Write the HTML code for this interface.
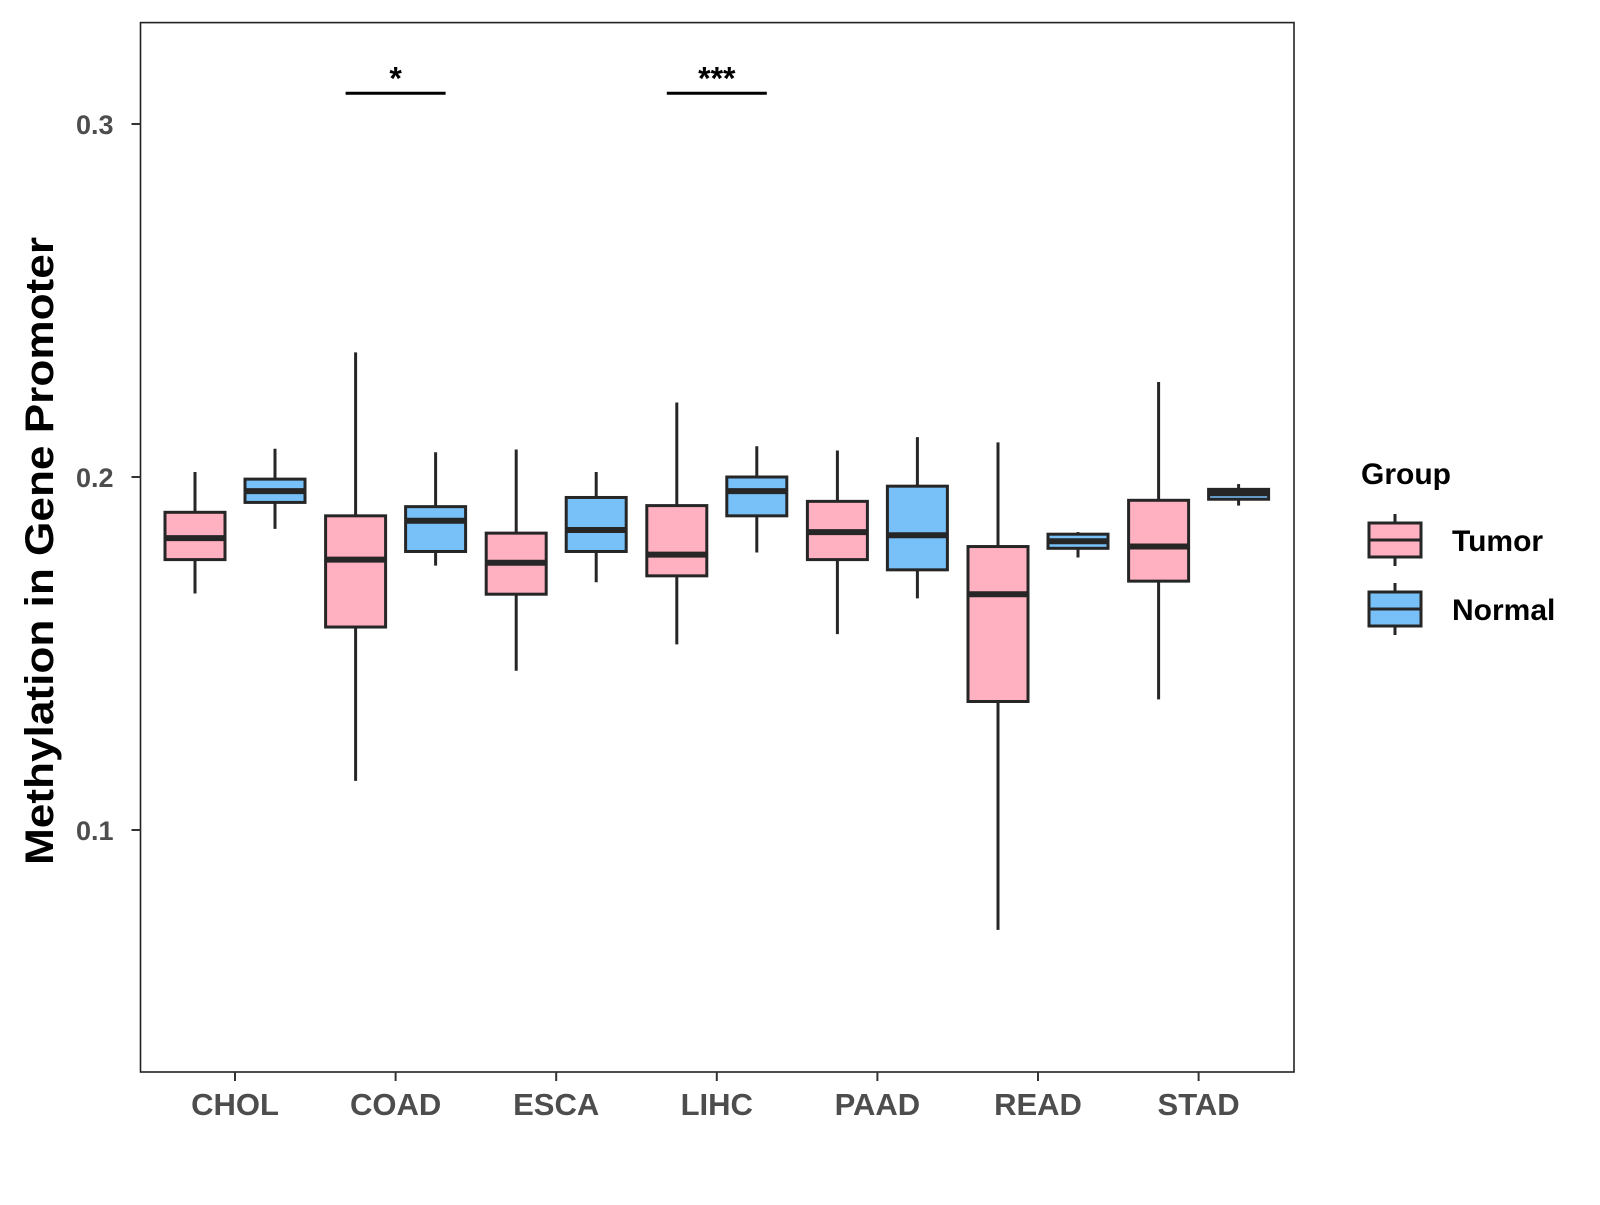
<!DOCTYPE html>
<html><head><meta charset="utf-8"><style>
body{margin:0;background:#fff;width:1600px;height:1200px;overflow:hidden}
svg{font-family:"Liberation Sans",Arial,sans-serif;font-weight:bold}
</style></head><body>
<svg id="c" width="1600" height="1200"></svg>
<script>
const categories=["CHOL","COAD","ESCA","LIHC","PAAD","READ","STAD"];
// [lowerWhisker, q1, median, q3, upperWhisker]
const tumorStats=[[0.167,0.1766,0.1827,0.190,0.2014],[0.1139,0.1575,0.1766,0.189,0.2353],[0.1451,0.1668,0.1757,0.1841,0.2078],[0.1526,0.172,0.178,0.1919,0.2211],[0.1555,0.1766,0.1844,0.1931,0.2075],[0.0717,0.1364,0.1668,0.1803,0.2098],[0.137,0.1705,0.1803,0.1934,0.2269]];
const normalStats=[[0.1853,0.1928,0.196,0.1994,0.208],[0.1749,0.1789,0.1876,0.1916,0.207],[0.1702,0.1789,0.185,0.1942,0.2014],[0.1786,0.189,0.196,0.2,0.2087],[0.1656,0.1737,0.1835,0.1974,0.2113],[0.1772,0.1798,0.1818,0.1838,0.1844],[0.1919,0.1937,0.1954,0.1965,0.198]];
const yTicks=[0.1,0.2,0.3];
const sigCats=["COAD","LIHC"];
const sigLabels=["*","***"];
const sigLevel=0.3087;

const NS="http://www.w3.org/2000/svg",svg=document.getElementById("c");
function el(t,a,p){const e=document.createElementNS(NS,t);for(const k in a)e.setAttribute(k,a[k]);(p||svg).appendChild(e);return e;}
const L=140.5,R=1294,T=22.6,B=1072;
const y=v=>477-(v-0.2)*3530;
const x=i=>235+i*160.6;
const frame=el("rect",{x:L,y:T,width:R-L,height:B-T,fill:"none",stroke:"#222","stroke-width":1.6});


yTicks.forEach(v=>{
 const g=el("g",{});
 
 
 el("line",{x1:L-9,x2:L,y1:y(v),y2:y(v),stroke:"#333","stroke-width":2},g);
 const t=el("text",{x:L-27,y:y(v)+10,"text-anchor":"end","font-size":27,fill:"#4d4d4d"},g);t.textContent=v.toFixed(1);
});
categories.forEach((c,i)=>{
 const g=el("g",{});
 
 
 el("line",{x1:x(i),x2:x(i),y1:B,y2:B+9,stroke:"#333","stroke-width":2},g);
 const t=el("text",{x:x(i),y:B+43,"text-anchor":"middle","font-size":31,fill:"#4d4d4d"},g);t.textContent=c;
});
function box(s,cx,fill,name){
 const g=el("g",{});
 
 
 const w=60;
 el("line",{x1:cx,x2:cx,y1:y(s[4]),y2:y(s[0]),stroke:"#262626","stroke-width":3},g);
 el("rect",{x:cx-w/2,y:y(s[3]),width:w,height:Math.max(y(s[1])-y(s[3]),0.5),fill:fill,stroke:"#262626","stroke-width":3},g);
 el("line",{x1:cx-w/2,x2:cx+w/2,y1:y(s[2]),y2:y(s[2]),stroke:"#262626","stroke-width":6},g);
}
categories.forEach((c,i)=>{
 box(tumorStats[i],x(i)-40,"#FFB0C1","box-tumor-"+c.toLowerCase());
 box(normalStats[i],x(i)+40,"#77C1F8","box-normal-"+c.toLowerCase());
});
sigCats.forEach((c,k)=>{
 const i=categories.indexOf(c);
 const g=el("g",{});
 
 
 el("line",{x1:x(i)-50,x2:x(i)+50,y1:y(sigLevel),y2:y(sigLevel),stroke:"#000","stroke-width":3},g);
 const t=el("text",{x:x(i),y:y(sigLevel)-4,"text-anchor":"middle","font-size":32,fill:"#000"},g);t.textContent=sigLabels[k];
});
const yt=el("text",{x:0,y:0,transform:"translate(53,551) rotate(-90)","text-anchor":"middle","font-size":40,fill:"#000",textLength:628,lengthAdjust:"spacingAndGlyphs"});
yt.textContent="Methylation in Gene Promoter";


const lg=el("g",{});


const lt=el("text",{x:1361,y:484,"font-size":30,fill:"#000"},lg);lt.textContent="Group";
[["Tumor","#FFB0C1",540],["Normal","#77C1F8",609]].forEach(([n,f,cy])=>{
 const g=el("g",{},lg);
 
 
 el("line",{x1:1402-7,x2:1402-7,y1:cy-26,y2:cy+26,stroke:"#262626","stroke-width":3},g);
 el("rect",{x:1369,y:cy-17,width:52,height:34,fill:f,stroke:"#262626","stroke-width":3},g);
 el("line",{x1:1369,x2:1421,y1:cy,y2:cy,stroke:"#262626","stroke-width":3},g);
 const t=el("text",{x:1452,y:cy+11,"font-size":30,fill:"#000"},g);t.textContent=n;
});
</script>
</body></html>
